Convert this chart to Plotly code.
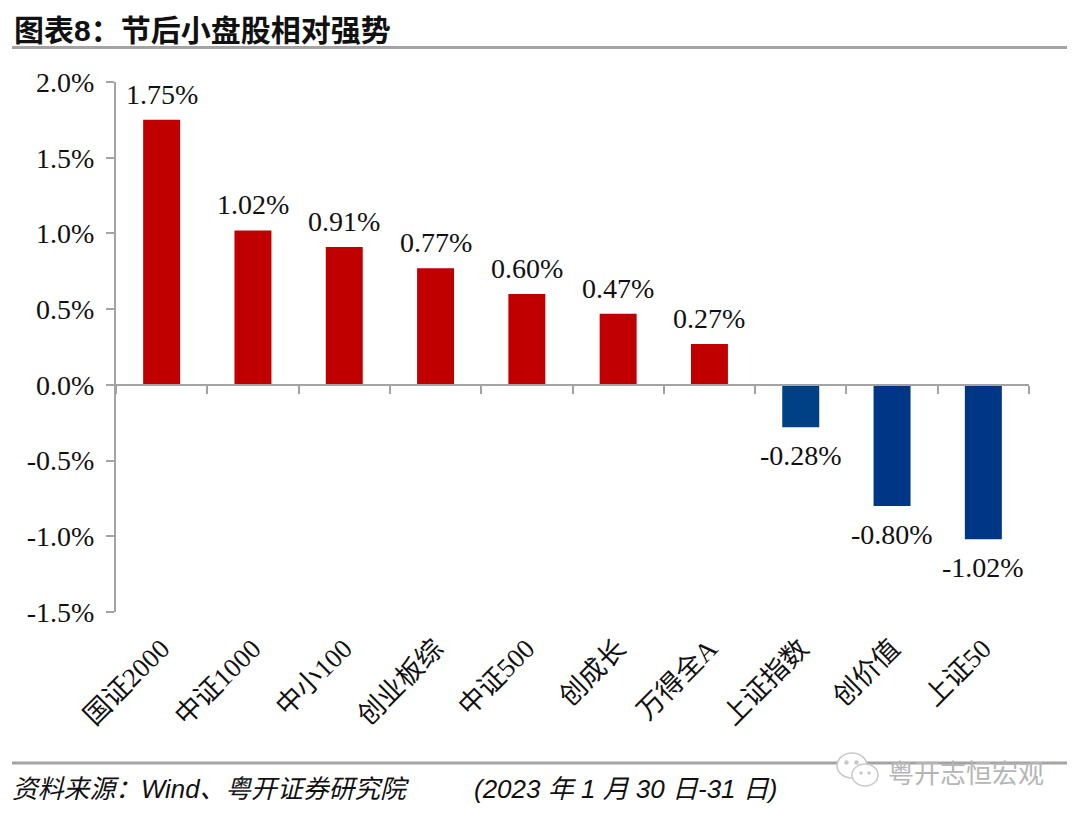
import plotly.graph_objects as go

categories = ["国证2000", "中证1000", "中小100", "创业板综", "中证500", "创成长", "万得全A", "上证指数", "创价值", "上证50"]
values = [1.75, 1.02, 0.91, 0.77, 0.60, 0.47, 0.27, -0.28, -0.80, -1.02]
bar_colors = ["#C00000"] * 7 + ["#004085", "#003686", "#003686"]
y_ticks = [2.0, 1.5, 1.0, 0.5, 0.0, -0.5, -1.0, -1.5]
y_labels = ["2.0%", "1.5%", "1.0%", "0.5%", "0.0%", "-0.5%", "-1.0%", "-1.5%"]
title_text = "图表8：节后小盘股相对强势"
source_text = "资料来源：Wind、粤开证券研究院"
date_text = "(2023 年 1 月 30 日-31 日)"
mark_text = "粤开志恒宏观"

W, H = 1080, 819
L, R, T, B = 116, 1029, 82, 612
SERIF = "Liberation Serif, Noto Sans CJK SC, serif"
SANS = "Liberation Sans, Noto Sans CJK SC, sans-serif"
GREY = "#A3A3A3"
ICON = "#C8C8C8"


def px(x):
    return (x - L) / (R - L)


def py(y):
    return (B - y) / (B - T)


fig = go.Figure()
fig.add_trace(go.Bar(x=categories, y=values, marker=dict(color=bar_colors, line_width=0),
                     width=0.405, xaxis="x", yaxis="y", showlegend=False, hoverinfo="skip"))
fig.add_trace(go.Scatter(x=categories, y=[None] * len(categories), xaxis="x2", yaxis="y",
                         mode="markers", showlegend=False, hoverinfo="skip"))

annotations = []
for c, v in zip(categories, values):
    annotations.append(dict(x=c, y=v, xref="x", yref="y", text=f"{v:.2f}%", showarrow=False,
                            yanchor="bottom" if v >= 0 else "top", yshift=8 if v >= 0 else -11,
                            font=dict(family=SERIF, size=28, color="#111111")))


def note(x, y, text, size, color="#111111", anchor="left", bold=False, italic=False, family=SANS):
    t = f"<b>{text}</b>" if bold else text
    annotations.append(dict(x=px(x), y=py(y), xref="paper", yref="paper", text=t, showarrow=False,
                            xanchor=anchor, yanchor="middle",
                            font=dict(family=family, size=size, color=color,
                                      style="italic" if italic else "normal")))


note(12, 30, title_text, 30, bold=True)
note(10, 789, source_text, 25.8, italic=True)
note(472, 789, date_text, 26, italic=True)


def circle(x0, x1, y0, y1, filled=False):
    return dict(type="circle", xref="paper", yref="paper", x0=px(x0), x1=px(x1), y0=py(y0), y1=py(y1),
                line=dict(color=ICON, width=1.5), fillcolor=ICON if filled else "white")


shapes = [
    dict(type="line", xref="paper", yref="paper", x0=px(12), x1=px(1067), y0=py(47.5), y1=py(47.5),
         line=dict(color=GREY, width=3), layer="below"),
    dict(type="line", xref="paper", yref="paper", x0=px(12), x1=px(1067), y0=py(763), y1=py(763),
         line=dict(color=GREY, width=3), layer="below"),
    circle(837, 867, 753, 778),
    circle(852, 878, 764, 786),
    circle(845, 848, 761, 764, True),
    circle(855, 858, 761, 764, True),
    circle(860, 862, 772, 774, True),
    circle(868, 870, 772, 774, True),
]
note(886, 771, mark_text, 26, color="#B5B5B5", family="Noto Sans CJK SC")

fig.update_layout(
    width=W, height=H, margin=dict(l=L, r=W - R, t=T, b=H - B, pad=0, autoexpand=False),
    plot_bgcolor="white", paper_bgcolor="white", showlegend=False,
    xaxis=dict(type="category", categoryorder="array", categoryarray=categories, range=[-0.5, 9.5],
               anchor="free", position=py(385), showline=True, linecolor=GREY, linewidth=2,
               ticks="outside", ticklen=8, tickwidth=2, tickcolor=GREY, tickson="boundaries",
               showticklabels=False, showgrid=False, zeroline=False, domain=[0, 1]),
    xaxis2=dict(type="category", categoryorder="array", categoryarray=categories, range=[-0.5, 9.5],
                overlaying="x", anchor="free", position=0, side="bottom", showline=False,
                ticks="outside", ticklen=9, tickcolor="rgba(0,0,0,0)", tickangle=-45,
                tickfont=dict(family=SERIF, size=27, color="#111111"), showgrid=False, zeroline=False),
    yaxis=dict(range=[-1.5, 2.0], tickvals=y_ticks, ticktext=y_labels, showline=True, linecolor=GREY,
               linewidth=2, ticks="outside", ticklen=8, tickwidth=2, tickcolor=GREY, ticklabelstandoff=6,
               tickfont=dict(family=SERIF, size=28, color="#111111"), showgrid=False, zeroline=False,
               domain=[0, 1]),
    annotations=annotations, shapes=shapes,
)
fig.write_html("out.html", config=dict(displayModeBar=False),
               post_script="document.body.style.margin='0';")
